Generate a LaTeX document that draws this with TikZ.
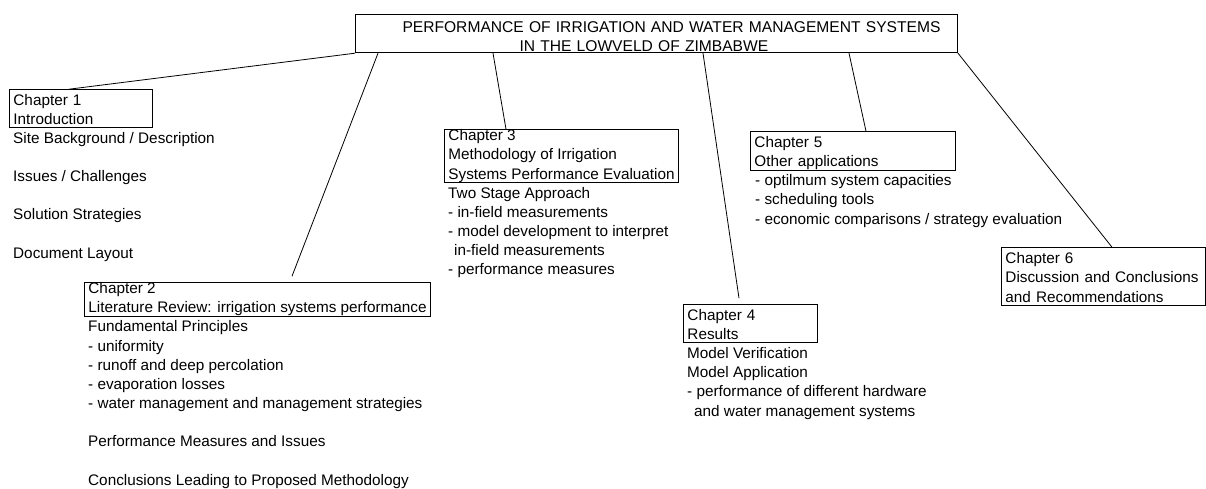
\documentclass[tikz,border=0pt]{standalone}
\usepackage{fontspec}
\setmainfont{Liberation Sans}
\usetikzlibrary{positioning}
\newcommand{\chapfont}{\fontsize{15.3pt}{19.2pt}\selectfont}
\newcommand{\titlefont}{\fontsize{15.6pt}{19.2pt}\selectfont}

\begin{document}
\begin{tikzpicture}[
  titlebox/.style={rectangle, draw=black, line width=1pt, align=left, anchor=north west, inner xsep=4pt, inner ysep=0pt, text width=594pt, font=\titlefont},
  chapbox/.style={rectangle, draw=black, line width=0.9pt, align=left, anchor=north west, inner xsep=4pt, inner ysep=0pt, font=\chapfont,
    execute at begin node=\rule{0pt}{16pt}, execute at end node=\rule[-3pt]{0pt}{3pt}},
  chapitems/.style={align=left, anchor=north west, inner sep=0pt, font=\chapfont, execute at begin node=\rule{0pt}{12pt}},
  link/.style={line width=0.8pt}]

\useasboundingbox (0,0) rectangle (1206pt,-488pt);

% Title
\node[titlebox] (title) at (355pt,-14pt) {\rule{0pt}{18pt}\hspace*{43pt}PERFORMANCE OF IRRIGATION AND WATER MANAGEMENT SYSTEMS\\\hspace*{160pt}IN THE LOWVELD OF ZIMBABWE\rule[-1pt]{0pt}{1pt}};

% Chapter boxes
\node[chapbox, text width=135pt, below=36pt of title.south west, anchor=north west, xshift=-346pt] (ch1) {Chapter 1\\Introduction};
\node[chapbox, below=229pt of title.south west, anchor=north west, xshift=-271pt] (ch2) {Chapter 2\\Literature Review: irrigation systems performance};
\node[chapbox, below=76pt of title.south west, anchor=north west, xshift=89pt] (ch3) {Chapter 3\\Methodology of Irrigation\\Systems Performance Evaluation};
\node[chapbox, text width=126pt, below=251pt of title.south west, anchor=north west, xshift=328pt] (ch4) {Chapter 4\\Results};
\node[chapbox, text width=197pt, below=78pt of title.south west, anchor=north west, xshift=395pt] (ch5) {Chapter 5\\Other applications};
\node[chapbox, text width=196pt, below=194pt of title.south west, anchor=north west, xshift=646pt] (ch6) {Chapter 6\\Discussion and Conclusions\\and Recommendations};

% Contents under each box
\node[chapitems, below=4pt of ch1.south west, anchor=north west, xshift=4pt] (ch1items) {Site Background / Description\\[19pt]Issues / Challenges\\[19pt]Solution Strategies\\[19pt]Document Layout};
\node[chapitems, below=4pt of ch2.south west, anchor=north west, xshift=4pt] (ch2items) {Fundamental Principles\\- uniformity\\- runoff and deep percolation\\- evaporation losses\\- water management and management strategies\\[19pt]Performance Measures and Issues\\[19pt]Conclusions Leading to Proposed Methodology};
\node[chapitems, below=4pt of ch3.south west, anchor=north west, xshift=4pt] (ch3items) {Two Stage Approach\\- in-field measurements\\- model development to interpret\\\hspace*{6pt}in-field measurements\\- performance measures};
\node[chapitems, below=4pt of ch4.south west, anchor=north west, xshift=4pt] (ch4items) {Model Verification\\Model Application\\- performance of different hardware\\\hspace*{7pt}and water management systems};
\node[chapitems, below=4pt of ch5.south west, anchor=north west, xshift=5pt] (ch5items) {- optilmum system capacities\\- scheduling tools\\- economic comparisons / strategy evaluation};

% Links
\draw[link] (title.south west) -- ([xshift=60pt]ch1.north west);
\draw[link] ([xshift=23pt]title.south west) -- ([xshift=208pt,yshift=6pt]ch2.north west);
\draw[link] ([xshift=138pt]title.south west) -- ([xshift=62pt]ch3.north west);
\draw[link] ([xshift=348pt]title.south west) -- ([xshift=56pt,yshift=6pt]ch4.north west);
\draw[link] ([xshift=494pt]title.south west) -- ([xshift=116pt]ch5.north west);
\draw[link] (title.south east) -- ([xshift=111pt]ch6.north west);

\end{tikzpicture}
\end{document}
